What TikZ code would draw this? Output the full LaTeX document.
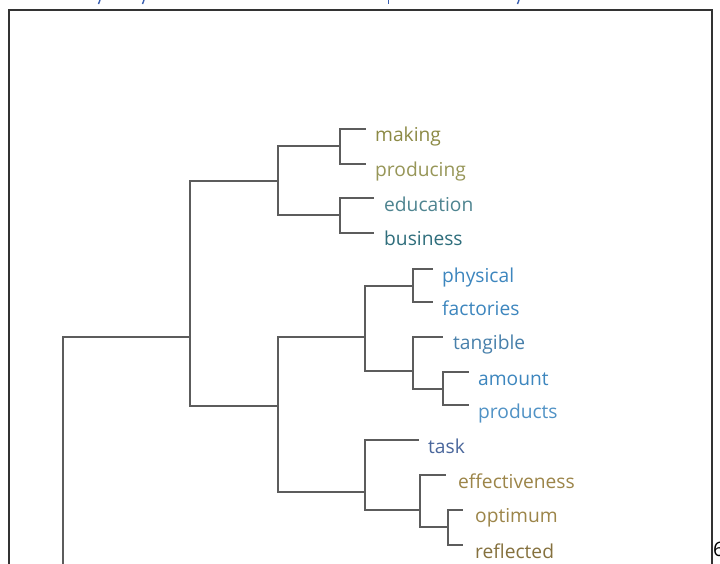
\documentclass[tikz,border=0pt]{standalone}
\usepackage{fontspec}
\setmainfont{Open Sans}
\begin{document}
\begin{tikzpicture}[x=1pt,y=-1pt,
  branch/.style={draw=black!64,line width=2pt,line cap=rect},
  lbl/.style={anchor=base west,inner sep=0pt,font=\fontsize{19.2}{21}\selectfont},
  frameline/.style={draw=black!80,line width=1.4pt}]
\useasboundingbox (0,0) rectangle (720,563);
\clip (0,0) rectangle (720,563);
\fill[white] (0,0) rectangle (720,563);

% colours of the clusters
\definecolor{olive}{HTML}{8C8A45}
\definecolor{teal}{HTML}{2F6E7C}
\definecolor{sky}{HTML}{3D86BE}
\definecolor{slate}{HTML}{4A679C}
\definecolor{ochre}{HTML}{9C8549}
\definecolor{headblue}{HTML}{3A5FB0}

% page frame
\draw[frameline] (9,600) -- (9,10) -- (712,10) -- (712,600);

% cut-off heading above the frame
\draw[headblue,line width=1.4pt] (100,0) -- (98.5,4);
\draw[headblue,line width=1.4pt] (144,0) -- (142.5,4);
\draw[headblue,line width=1.4pt] (388.5,0) -- (388.5,4);
\draw[headblue,line width=1.4pt] (519,0) -- (517.5,4);

% page number at the right edge
\node[anchor=base west,inner sep=0pt,font=\fontsize{20}{22}\selectfont] (pg) at (713,556) {6};

% leaf tips
\coordinate (tMak) at (365,129);
\coordinate (tPro) at (365,163.5);
\coordinate (tEdu) at (373,198);
\coordinate (tBus) at (373,232.5);
\coordinate (tPhy) at (432,269);
\coordinate (tFac) at (432,302);
\coordinate (tTan) at (442,336.5);
\coordinate (tAmo) at (468,372);
\coordinate (tPrd) at (468,405);
\coordinate (tTas) at (418,440);
\coordinate (tEff) at (445,475);
\coordinate (tOpt) at (462,509.5);
\coordinate (tRef) at (462,545);

% internal nodes of the tree
\coordinate (nA) at (340,146.25);
\coordinate (nB) at (340,215.25);
\coordinate (nC) at (278,180.75);
\coordinate (nD) at (413,285.5);
\coordinate (nE) at (443,388.5);
\coordinate (nF) at (413,371.2);
\coordinate (nG) at (365,336.9);
\coordinate (nH) at (448,527.25);
\coordinate (nI) at (420,509.8);
\coordinate (nJ) at (365,492.4);
\coordinate (nK) at (278,405.9);
\coordinate (nL) at (190,336.6);
\coordinate (nR) at (63,640);

% leaf labels
\node[lbl,text=olive] (making) at (375,141.5) {making};
\node[lbl,text=olive!90!white] (producing) at (375,176) {producing};
\node[lbl,text=teal!85!white] (education) at (384,211) {education};
\node[lbl,text=teal] (business) at (384,245.5) {business};
\node[lbl,text=sky] (physical) at (442,282) {physical};
\node[lbl,text=sky] (factories) at (442,315) {factories};
\node[lbl,text=sky!85!black!90!white] (tangible) at (453,349.5) {tangible};
\node[lbl,text=sky] (amount) at (478,385) {amount};
\node[lbl,text=sky!90!white] (products) at (478,418) {products};
\node[lbl,text=slate] (task) at (428,453) {task};
\node[lbl,text=ochre] (effectiveness) at (458,488) {effectiveness};
\node[lbl,text=ochre] (optimum) at (475,522.5) {optimum};
\node[lbl,text=ochre!85!black] (reflected) at (475,558) {reflected};

% branches
\draw[branch] (tMak) -| (nA) |- (tPro);
\draw[branch] (tEdu) -| (nB) |- (tBus);
\draw[branch] (nC) |- (nA);
\draw[branch] (nC) |- (nB);
\draw[branch] (tPhy) -| (nD) |- (tFac);
\draw[branch] (tAmo) -| (nE) |- (tPrd);
\draw[branch] (nF) |- (tTan);
\draw[branch] (nF) |- (nE);
\draw[branch] (nG) |- (nD);
\draw[branch] (nG) |- (nF);
\draw[branch] (tOpt) -| (nH) |- (tRef);
\draw[branch] (nI) |- (tEff);
\draw[branch] (nI) |- (nH);
\draw[branch] (nJ) |- (tTas);
\draw[branch] (nJ) |- (nI);
\draw[branch] (nK) |- (nG);
\draw[branch] (nK) |- (nJ);
\draw[branch] (nL) |- (nC);
\draw[branch] (nL) |- (nK);
\draw[branch] (nR) |- (nL);
\end{tikzpicture}
\end{document}
